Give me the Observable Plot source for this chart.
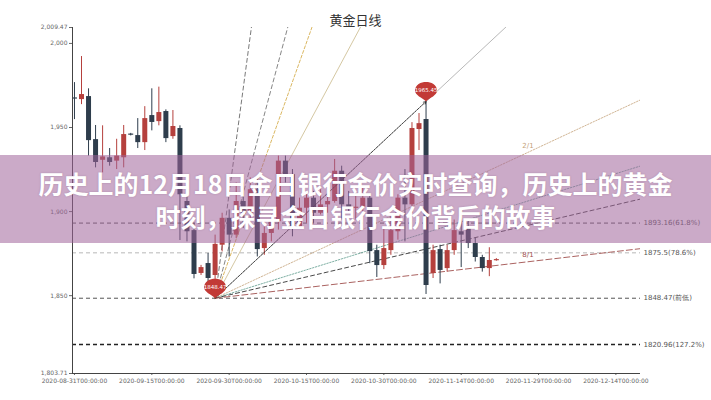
<!DOCTYPE html>
<html><head><meta charset="utf-8">
<script src="https://cdn.jsdelivr.net/npm/d3@7"></script>
<script src="https://cdn.jsdelivr.net/npm/@observablehq/plot@0.6"></script>
<style>
html,body{margin:0;padding:0;background:#fff;}
#wrap{position:relative;width:711px;height:400px;overflow:hidden;}
#title{position:absolute;top:11px;left:0;width:711px;text-align:center;font:13px/18px "Noto Sans CJK SC",sans-serif;color:#333;}
#banner{position:absolute;left:0;top:155px;width:711px;height:88px;background:rgba(160,100,155,0.55);box-sizing:border-box;padding-top:12px;}
#banner div{text-align:center;color:#fff;font:700 25px/33px "Noto Sans CJK SC",sans-serif;text-shadow:0 0 2px rgba(80,40,80,0.25);white-space:nowrap;}
</style></head>
<body><div id="wrap"><div id="chart"></div><div id="title">黄金日线</div>
<div id="banner"><div>历史上的12月18日金日银行金价实时查询，历史上的黄金</div><div>时刻，探寻金日银行金价背后的故事</div></div></div>
<script>
// ---- data ----
const opens  = [1967.5,1966.6,1968.4,1942.8,1930.5,1932.0,1930.0,1932.0,1946.0,1945.2,1941.0,1957.1,1953.5,1959.5,1944.6,1949.4,1906.0,1888.7,1863.2,1869.1,1862.0,1880.0,1896.0,1886.0,1906.0,1899.0,1913.0,1878.0,1887.0,1894.0,1930.0,1922.0,1891.0,1902.0,1908.0,1899.0,1904.0,1906.0,1924.0,1904.0,1902.0,1902.5,1908.0,1876.8,1867.9,1876.8,1888.0,1908.0,1904.0,1948.8,1954.7,1863.2,1877.4,1866.1,1876.8,1888.0,1889.9,1881.0,1872.7,1866.1,1870.8];
const highs  = [1976.7,1992.2,1973.0,1951.2,1951.0,1937.5,1943.0,1951.2,1946.5,1955.3,1962.4,1973.0,1974.0,1960.5,1960.1,1951.0,1914.0,1893.0,1868.0,1875.1,1886.0,1899.0,1901.0,1917.0,1917.0,1920.0,1920.0,1893.0,1898.0,1933.0,1933.0,1925.0,1908.0,1911.0,1912.0,1913.0,1917.0,1931.0,1927.0,1912.0,1910.0,1914.0,1910.0,1880.0,1890.0,1897.0,1910.0,1925.0,1952.9,1958.3,1965.45,1880.0,1880.0,1880.0,1895.0,1900.0,1895.0,1884.0,1874.0,1878.5,1872.0];
const lows   = [1954.7,1963.6,1933.0,1926.0,1923.0,1927.0,1925.0,1926.0,1945.0,1937.5,1936.3,1948.0,1951.0,1941.0,1943.0,1882.8,1882.0,1860.0,1862.0,1858.0,1848.47,1876.0,1873.0,1884.0,1890.0,1896.0,1873.0,1874.0,1882.0,1889.0,1917.0,1885.0,1890.0,1893.0,1893.0,1898.0,1899.0,1905.0,1895.0,1899.0,1895.0,1898.0,1869.0,1860.8,1865.5,1874.0,1883.0,1882.0,1899.0,1936.3,1850.7,1860.2,1857.0,1864.0,1874.0,1866.7,1878.0,1870.0,1864.0,1861.3,1870.5];
const closes = [1967.0,1969.6,1942.2,1929.2,1932.5,1929.2,1933.0,1945.8,1945.5,1941.0,1955.3,1953.0,1958.9,1943.4,1950.6,1910.0,1888.0,1862.6,1866.7,1860.2,1880.5,1896.0,1886.0,1906.0,1899.0,1913.0,1877.4,1887.0,1894.0,1930.0,1922.0,1891.0,1902.0,1908.0,1899.0,1904.0,1906.0,1924.0,1904.0,1902.0,1902.5,1908.0,1876.2,1867.9,1878.0,1888.7,1908.0,1904.0,1949.4,1952.3,1856.0,1876.8,1865.0,1876.8,1888.7,1886.0,1881.0,1872.7,1866.1,1870.9,1871.4];

const xTickIndex  = [0, 11, 22, 33, 44, 55, 66, 77];
const xTickLabels = ["2020-08-31T00:00:00","2020-09-15T00:00:00","2020-09-30T00:00:00","2020-10-15T00:00:00","2020-10-30T00:00:00","2020-11-14T00:00:00","2020-11-29T00:00:00","2020-12-14T00:00:00"];
const yMin = 1803.71, yMax = 2009.47;
const yTicks = [1803.71, 1850, 1900, 1950, 2000, 2009.47];

const levelValues = [1893.16, 1875.5, 1848.47, 1820.96];
const levelLabels = ["1893.16(61.8%)", "1875.5(78.6%)", "1848.47(前低)", "1820.96(127.2%)"];

const lowIndex = 20, lowPrice = 1848.47;
const highIndex = 50, highPrice = 1965.45;
const pinLabels = ["1848.47", "1965.45"];

const fanNames = ["1/8","1/4","1/3","1/2","1/1","2/1","3/1","4/1","8/1"];
const fanMultipliers = [8, 4, 3, 2, 1, 1/2, 1/3, 1/4, 1/8];

// ---- styles ----
const UP = "#b5403d", DOWN = "#2e3d4c";
const X_MIN = -0.28, X_MAX = 80.5;
const fanStyle = {
  "1/8": {stroke:"#555", dash:"4,3", w:0.8},
  "1/4": {stroke:"#666", dash:"4,3", w:0.8},
  "1/3": {stroke:"#d0a43a", dash:"3,2", w:0.8},
  "1/2": {stroke:"#c9b98a", dash:null, w:0.8},
  "1/1": {stroke:"#9a9a9a", dash:null, w:0.7},
  "2/1": {stroke:"#c4a27a", dash:"1.5,1.5", w:0.8},
  "3/1": {stroke:"#5d9a8c", dash:"1.5,1.5", w:0.8},
  "4/1": {stroke:"#333", dash:"4,3", w:0.9},
  "8/1": {stroke:"#a0504e", dash:"6,3", w:0.9}
};
const levelStyle = [
  {stroke:"#555", dash:"4,3", w:1},
  {stroke:"#cfcfcf", dash:"4,3", w:1.6},
  {stroke:"#555", dash:"4,3", w:1},
  {stroke:"#222", dash:"4,3", w:1.3}
];

// ---- build ----
const candles = opens.map((o, i) => {
  let c = closes[i];
  const up = c >= o;
  let b1 = o, b2 = c;
  if (Math.abs(b1 - b2) < 0.7) { b1 = (o + c) / 2 - 0.35; b2 = (o + c) / 2 + 0.35; }
  return {i, o, h: highs[i], l: lows[i], c, b1, b2, color: up ? UP : DOWN};
});

const unit = (highPrice - lowPrice) / (highIndex - lowIndex);

const fanMarks = fanNames.map((name, k) => {
  const m = fanMultipliers[k];
  const pts = [{i: lowIndex, p: lowPrice}, {i: X_MAX, p: lowPrice + m * unit * (X_MAX - lowIndex)}];
  const s = fanStyle[name];
  return Plot.line(pts, {x: "i", y: "p", stroke: s.stroke, strokeWidth: s.w, strokeDasharray: s.dash, clip: true});
});

const fanLabelIdx = 64.5;
const fanLabels = ["2/1", "8/1"].map(name => ({
  name, i: fanLabelIdx,
  p: lowPrice + fanMultipliers[fanNames.indexOf(name)] * unit * (fanLabelIdx - lowIndex)
}));

const levels = levelValues.map((v, k) => ({v, label: levelLabels[k], k}));
const levelMarks = levels.map(d => Plot.ruleY([d], {y: "v", stroke: levelStyle[d.k].stroke, strokeWidth: levelStyle[d.k].w, strokeDasharray: levelStyle[d.k].dash}));

const pins = [{i: lowIndex, p: lowPrice, label: pinLabels[0]}, {i: highIndex, p: highPrice, label: pinLabels[1]}];
const pinSymbol = {
  draw(ctx) {
    ctx.moveTo(0, 0);
    ctx.bezierCurveTo(-4, -4, -11, -6, -11, -11);
    ctx.bezierCurveTo(-11, -17, -5, -19.5, 0, -19.5);
    ctx.bezierCurveTo(5, -19.5, 11, -17, 11, -11);
    ctx.bezierCurveTo(11, -6, 4, -4, 0, 0);
    ctx.closePath();
  }
};

const chart = Plot.plot({
  width: 711, height: 400,
  marginLeft: 72, marginRight: 71, marginTop: 27, marginBottom: 27,
  style: {fontSize: "6px", fontFamily: "DejaVu Sans, sans-serif", color: "#666", background: "#fff"},
  color: {type: "identity"},
  x: {type: "linear", domain: [X_MIN, X_MAX], ticks: xTickIndex, tickFormat: d => xTickLabels[xTickIndex.indexOf(d)] ?? "", tickSize: 2, tickPadding: 3, label: null},
  y: {domain: [yMin, yMax], ticks: yTicks, tickFormat: d3.format(","), tickSize: 3, tickPadding: 2, label: null},
  marks: [
    ...levelMarks,
    Plot.text(levels, {x: () => X_MAX, y: "v", text: "label", textAnchor: "start", dx: 3, fontSize: 7, fill: "#555"}),
    ...fanMarks,
    Plot.text(fanLabels, {x: "i", y: "p", text: "name", dy: -7, fontSize: 7, fill: d => d.name === "8/1" ? "#a0504e" : "#c4a27a", fontWeight: d => d.name === "8/1" ? "bold" : "normal"}),
    Plot.ruleX(candles, {x: "i", y1: "l", y2: "h", stroke: "color", strokeWidth: 1}),
    Plot.ruleX(candles, {x: "i", y1: "b1", y2: "b2", stroke: "color", strokeWidth: 5}),
    Plot.arrow([{x1: lowIndex, y1: lowPrice, x2: highIndex, y2: highPrice}], {x1: "x1", y1: "y1", x2: "x2", y2: "y2", stroke: "#111", strokeWidth: 0.7, headLength: 6, strokeDasharray: "2,1.5"}),
    Plot.dot(pins, {x: "i", y: "p", symbol: pinSymbol, fill: "#c23a36", stroke: "none", r: 5}),
    Plot.text(pins, {x: "i", y: "p", text: "label", dy: -11, fill: "#fff", fontSize: 5.5}),
    Plot.ruleX([X_MIN], {stroke: "#444", strokeWidth: 1}),
    Plot.ruleY([yMin], {stroke: "#444", strokeWidth: 1})
  ]
});
document.getElementById("chart").appendChild(chart);
</script>
</body></html>
